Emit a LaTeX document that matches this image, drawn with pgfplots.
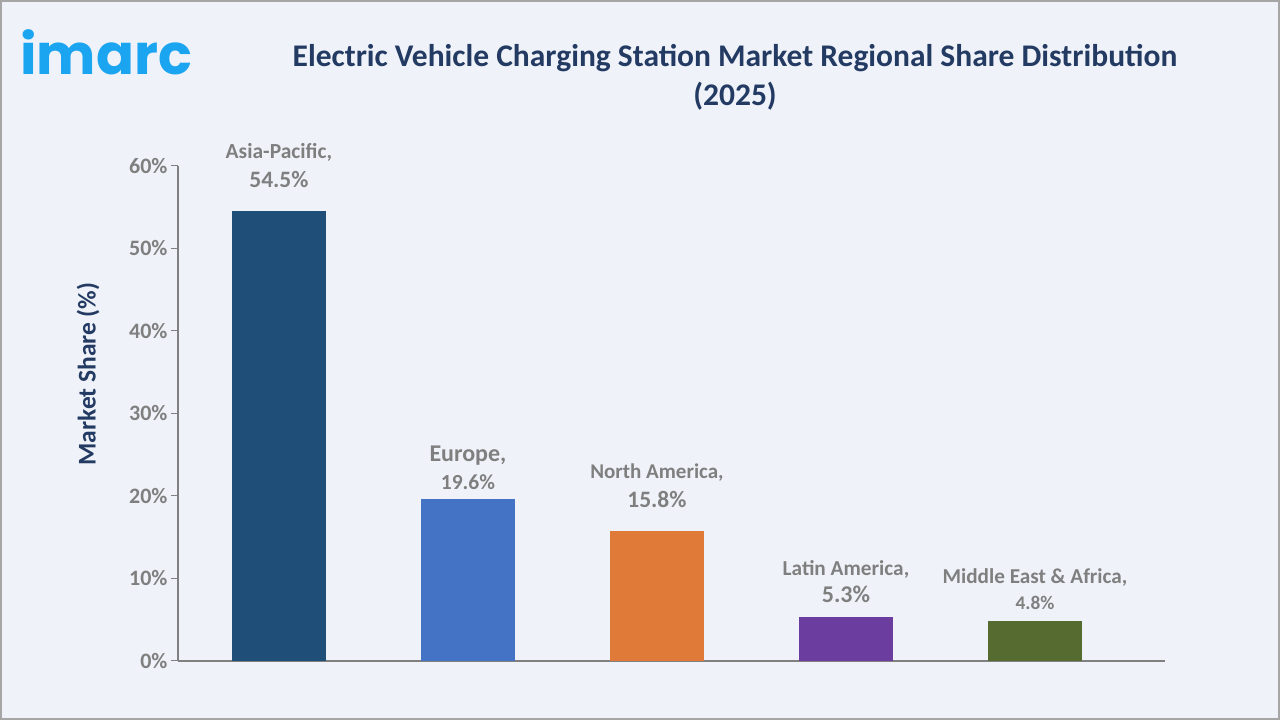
\documentclass[border=0pt]{standalone}
\usepackage{fontspec}
\setmainfont{Carlito}
\newfontfamily\logofont{Poppins}
\usepackage{pgfplots}
\pgfplotsset{compat=1.18}
\definecolor{bg}{HTML}{EFF3F9}
\definecolor{bordergray}{HTML}{A6A6A6}
\definecolor{navy}{HTML}{233A62}
\definecolor{lblgray}{HTML}{7F7F7F}
\definecolor{axgray}{HTML}{808080}
\definecolor{logoblue}{HTML}{1BA4F0}
\definecolor{c1}{HTML}{1F4E79}
\definecolor{c2}{HTML}{4472C4}
\definecolor{c3}{HTML}{E07A38}
\definecolor{c4}{HTML}{6A3D9E}
\definecolor{c5}{HTML}{556B2F}
\begin{document}
\begin{tikzpicture}[x=1pt,y=1pt]
\fill[bg] (0,0) rectangle (1280,720);
\draw[bordergray, line width=2pt] (1,1) rectangle (1279,719);
\node[anchor=base west, inner sep=0pt, text=logoblue, font=\logofont\bfseries\fontsize{56}{60}\selectfont] at (20,645) {imarc};
\node[anchor=base, inner sep=0pt, text=navy, font=\bfseries\fontsize{31.5}{36}\selectfont] at (735,653) {Electric Vehicle Charging Station Market Regional Share Distribution};
\node[anchor=base, inner sep=0pt, text=navy, font=\bfseries\fontsize{31.5}{36}\selectfont] at (735,614) {(2025)};
\node[rotate=90, inner sep=0pt, text=navy, font=\bfseries\fontsize{25.5}{30}\selectfont] at (88,346) {Market Share (\%)};
\begin{axis}[
  at={(178pt,59pt)}, anchor=south west,
  width=987pt, height=495pt, scale only axis,
  xmin=-0.534, xmax=4.688, ymin=0, ymax=60,
  enlargelimits=false, clip=false,
  axis lines*=left,
  axis line style={axgray, line width=1.2pt},
  xtick=\empty,
  ytick={0,10,...,60},
  tick align=outside, major tick length=7pt,
  tick style={axgray, line width=1pt},
  /pgf/number format/assume math mode=true,
  yticklabel={\pgfmathprintnumber{\tick}\%},
  yticklabel style={text=lblgray, font=\bfseries\fontsize{22}{24}\selectfont},
  ybar, bar width=94pt,
]
\addplot[fill=c1, draw=none, bar shift=0pt,
  nodes near coords={{\fontsize{21.5}{29}\selectfont Asia-Pacific,}\\{\fontsize{23.5}{29}\selectfont 54.5\%}},
  nodes near coords style={anchor=south, inner sep=0pt, yshift=23pt, align=center, text=lblgray, font=\bfseries\fontsize{21}{29}\selectfont}]
  coordinates {(0,54.5)};
\addplot[fill=c2, draw=none, bar shift=0pt,
  nodes near coords={{\fontsize{24}{28}\selectfont Europe,}\\{\fontsize{21.5}{28}\selectfont 19.6\%}},
  nodes near coords style={anchor=south, inner sep=0pt, yshift=9pt, align=center, text=lblgray, font=\bfseries\fontsize{21}{28}\selectfont}]
  coordinates {(1,19.6)};
\addplot[fill=c3, draw=none, bar shift=0pt,
  nodes near coords={{\fontsize{21}{29}\selectfont North America,}\\{\fontsize{23.5}{29}\selectfont 15.8\%}},
  nodes near coords style={anchor=south, inner sep=0pt, yshift=23pt, align=center, text=lblgray, font=\bfseries\fontsize{21}{29}\selectfont}]
  coordinates {(2,15.8)};
\addplot[fill=c4, draw=none, bar shift=0pt,
  nodes near coords={{\fontsize{21.3}{27}\selectfont Latin America,}\\{\fontsize{24}{27}\selectfont 5.3\%}},
  nodes near coords style={anchor=south, inner sep=0pt, yshift=14pt, align=center, text=lblgray, font=\bfseries\fontsize{21}{27}\selectfont}]
  coordinates {(3,5.3)};
\addplot[fill=c5, draw=none, bar shift=0pt,
  nodes near coords={{\fontsize{21.2}{26}\selectfont Middle East \& Africa,}\\{\fontsize{19.3}{26}\selectfont 4.8\%}},
  nodes near coords style={anchor=south, inner sep=0pt, yshift=12pt, align=center, text=lblgray, font=\bfseries\fontsize{21}{26}\selectfont}]
  coordinates {(4,4.8)};
\end{axis}
\end{tikzpicture}
\end{document}
